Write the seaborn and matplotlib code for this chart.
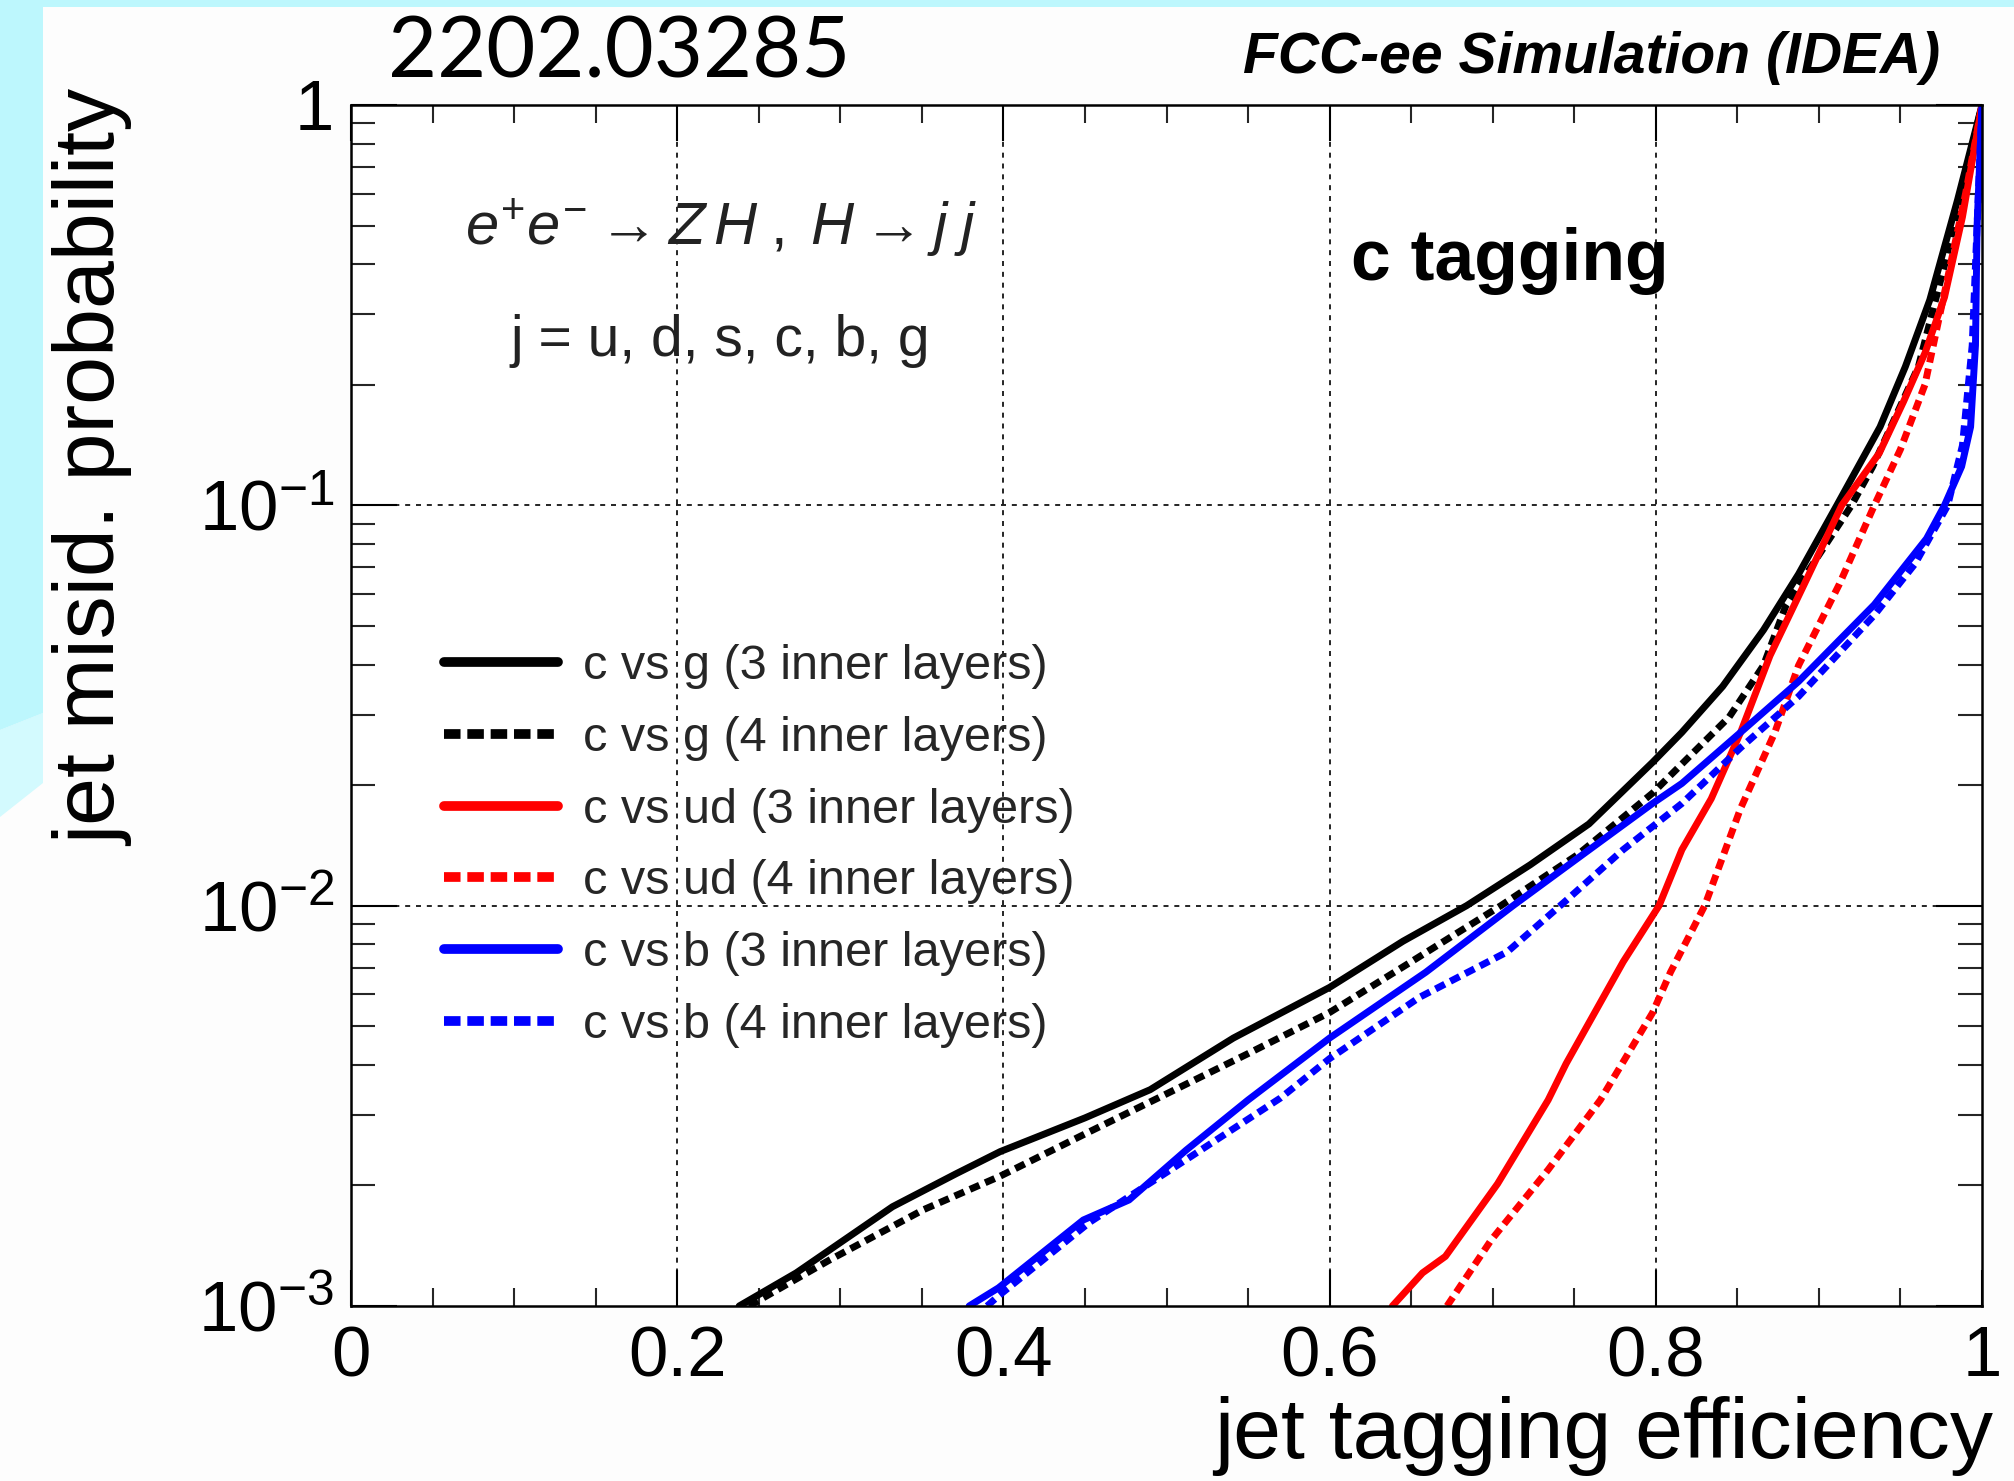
import numpy as np
import pandas as pd
import matplotlib
matplotlib.use("Agg")
import matplotlib.pyplot as plt
import seaborn as sns
from matplotlib.lines import Line2D
from matplotlib.patches import Polygon
from matplotlib.ticker import FixedLocator, FixedFormatter, LogLocator, NullFormatter

# ---------------- data ----------------
cg3_eff = [0.238, 0.273, 0.332, 0.371, 0.398, 0.45, 0.49, 0.541, 0.6, 0.645, 0.684,
           0.723, 0.759, 0.798, 0.816, 0.841, 0.866, 0.8875, 0.911, 0.9375, 0.953,
           0.968, 0.985, 1.0]
cg3_mis = [0.001, 0.00121, 0.00177, 0.00214, 0.00243, 0.00295, 0.00347, 0.00467,
           0.00625, 0.00815, 0.0100, 0.01265, 0.016, 0.0228, 0.0271, 0.0353, 0.0488,
           0.0673, 0.1, 0.157, 0.222, 0.326, 0.579, 1.0]

cg4_eff = [0.244, 0.293, 0.351, 0.398, 0.45, 0.495, 0.55, 0.6, 0.65, 0.705, 0.752,
           0.798, 0.845, 0.866, 0.880, 0.92, 0.933, 0.961, 0.977, 1.0]
cg4_mis = [0.001, 0.0013, 0.00174, 0.00211, 0.00269, 0.00331, 0.00427, 0.00541,
           0.00724, 0.01, 0.0134, 0.0191, 0.0296, 0.0398, 0.0565, 0.1, 0.125, 0.222,
           0.398, 1.0]

cud3_eff = [0.6385, 0.657, 0.671, 0.703, 0.734, 0.745, 0.780, 0.802, 0.816, 0.834,
            0.852, 0.870, 0.891, 0.914, 0.937, 0.952, 0.965, 0.977, 0.988, 1.0]
cud3_mis = [0.001, 0.00121, 0.00133, 0.00202, 0.00327, 0.00403, 0.00724, 0.01, 0.0138,
            0.0185, 0.0271, 0.0421, 0.0635, 0.1, 0.135, 0.182, 0.24, 0.331, 0.525, 1.0]

cud4_eff = [0.672, 0.699, 0.734, 0.766, 0.798, 0.809, 0.830, 0.852, 0.873, 0.8875,
            0.9125, 0.934, 0.95, 0.965, 0.978, 0.99, 1.0]
cud4_mis = [0.001, 0.00146, 0.00219, 0.00327, 0.0054, 0.00682, 0.01, 0.0175, 0.0271,
            0.0398, 0.0635, 0.1, 0.138, 0.2, 0.355, 0.603, 1.0]

cb3_eff = [0.379, 0.397, 0.449, 0.477, 0.512, 0.55, 0.6, 0.659, 0.7125, 0.755, 0.798,
           0.816, 0.852, 0.8875, 0.934, 0.966, 0.977, 0.9875, 0.993, 0.996, 0.997,
           0.999, 1.0]
cb3_mis = [0.001, 0.00111, 0.00164, 0.00184, 0.00245, 0.00327, 0.00467, 0.00682, 0.01,
           0.0134, 0.018, 0.0202, 0.0271, 0.0363, 0.0565, 0.0826, 0.1, 0.125, 0.157,
           0.251, 0.501, 0.794, 1.0]

cb4_eff = [0.39, 0.397, 0.453, 0.512, 0.57, 0.6, 0.655, 0.709, 0.745, 0.780, 0.816,
           0.852, 0.8875, 0.934, 0.959, 0.979, 0.988, 0.994, 0.997, 1.0]
cb4_mis = [0.001, 0.00106, 0.00162, 0.00232, 0.00331, 0.00415, 0.0059, 0.00767, 0.0103,
           0.0138, 0.018, 0.0248, 0.0333, 0.0532, 0.0715, 0.1, 0.141, 0.251, 0.501, 1.0]

series_labels = ["c vs g (3 inner layers)", "c vs g (4 inner layers)",
                 "c vs ud (3 inner layers)", "c vs ud (4 inner layers)",
                 "c vs b (3 inner layers)", "c vs b (4 inner layers)"]
series_eff = [cg3_eff, cg4_eff, cud3_eff, cud4_eff, cb3_eff, cb4_eff]
series_mis = [cg3_mis, cg4_mis, cud3_mis, cud4_mis, cb3_mis, cb4_mis]

x_tick_values = [0, 0.2, 0.4, 0.6, 0.8, 1.0]
x_tick_labels = ["0", "0.2", "0.4", "0.6", "0.8", "1"]
y_tick_values = [1e-3, 1e-2, 1e-1, 1.0]
y_tick_labels = [r"$\mathregular{10^{-3}}$", r"$\mathregular{10^{-2}}$",
                 r"$\mathregular{10^{-1}}$", "1"]

# ---------------- styling ----------------
sns.set_theme(style="ticks")
plt.rcParams["font.family"] = ["Liberation Sans", "DejaVu Sans"]
plt.rcParams["mathtext.fontset"] = "custom"
plt.rcParams["mathtext.rm"] = "Liberation Sans"
plt.rcParams["mathtext.it"] = "Liberation Sans:italic"
plt.rcParams["mathtext.bf"] = "Liberation Sans:bold"

colors = ["#000000", "#000000", "#ff0000", "#ff0000", "#0000ff", "#0000ff"]
dotted = (0, (1.5, 0.9))
leg_dotted = (0, (1.7, 0.7))
styles = ["-", dotted, "-", dotted, "-", dotted]
leg_styles = ["-", leg_dotted, "-", leg_dotted, "-", leg_dotted]

W, H = 2014, 1481
fig = plt.figure(figsize=(W / 100, H / 100), dpi=100)
fig.patch.set_facecolor("#fdfdfd")

# slide decoration (cyan border)
cyan = "#bdf7fd"
light_cyan = "#d3fafe"
fig.add_artist(Polygon([[0, 1], [1, 1], [1, 1 - 7 / H], [0, 1 - 7 / H]],
                       closed=True, transform=fig.transFigure, color=cyan, lw=0, zorder=0))
fig.add_artist(Polygon([[0, 1 - 730 / H], [43 / W, 1 - 713 / H], [43 / W, 1 - 783 / H],
                        [0, 1 - 817 / H]],
                       closed=True, transform=fig.transFigure, color=light_cyan, lw=0, zorder=0))
fig.add_artist(Polygon([[0, 1], [43 / W, 1], [43 / W, 1 - 713 / H], [0, 1 - 730 / H]],
                       closed=True, transform=fig.transFigure, color=cyan, lw=0, zorder=0))

ax = fig.add_axes([351 / W, 1 - 1306 / H, (1982 - 351) / W, (1306 - 105) / H])
ax.set_facecolor("white")

for eff, mis, c, ls, lab in zip(series_eff, series_mis, colors, styles, series_labels):
    df = pd.DataFrame({"eff": eff, "mis": mis})
    sns.lineplot(data=df, x="eff", y="mis", ax=ax, color=c, lw=5,
                 sort=False, estimator=None, legend=False)
    ln = ax.lines[-1]
    ln.set_linestyle(ls)
    ln.set_dash_capstyle("butt")
    ln.set_solid_joinstyle("round")

ax.set_yscale("log")
ax.set_xlim(0, 1)
ax.set_ylim(1e-3, 1)
ax.set_xlabel("")
ax.set_ylabel("")

# grid
for gx in [0.2, 0.4, 0.6, 0.8]:
    ax.axvline(gx, color="black", lw=1.2, linestyle=(0, (3, 3.5)), zorder=0.5)
for gy in [1e-2, 1e-1]:
    ax.axhline(gy, color="black", lw=1.2, linestyle=(0, (3, 3.5)), zorder=0.5)

# ticks
ax.xaxis.set_major_locator(FixedLocator(x_tick_values))
ax.xaxis.set_major_formatter(FixedFormatter(x_tick_labels))
ax.xaxis.set_minor_locator(FixedLocator(np.arange(0, 1.0001, 0.05)))
ax.yaxis.set_major_locator(FixedLocator(y_tick_values))
ax.yaxis.set_major_formatter(FixedFormatter(y_tick_labels))
ax.yaxis.set_minor_locator(LogLocator(base=10, subs=np.arange(2, 10)))
ax.yaxis.set_minor_formatter(NullFormatter())

ax.tick_params(axis="x", which="major", direction="in", length=26, width=1.5,
               top=True, bottom=True, labelsize=51, pad=14, color="black", labelcolor="black")
ax.tick_params(axis="x", which="minor", direction="in", length=13, width=1.5,
               top=True, bottom=True)
ax.tick_params(axis="y", which="major", direction="in", length=33, width=1.5,
               left=True, right=True, labelsize=51, pad=12, color="black", labelcolor="black")
ax.tick_params(axis="y", which="minor", direction="in", length=17, width=1.5,
               left=True, right=True)
for s in ax.spines.values():
    s.set_visible(True)
    s.set_linewidth(1.8)
    s.set_color("black")
    s.set_zorder(5)

# legend
handles = [Line2D([0], [0], color=c, lw=7, linestyle=ls, dash_capstyle="butt")
           for c, ls in zip(colors, leg_styles)]
ax.legend(handles, series_labels, loc="upper left", bbox_to_anchor=(0.057, 0.551),
          frameon=False, fontsize=35, handlelength=2.35, handletextpad=0.5,
          labelspacing=0.55, borderpad=0, borderaxespad=0)

# in-plot texts
ax.text(0.07, 0.884, r"$e^{+}e^{-} \rightarrow Z\,H\;,\;H \rightarrow j\;j$",
        transform=ax.transAxes, fontsize=43, ha="left", va="baseline", color="#222222")
ax.text(0.098, 0.791, "j = u, d, s, c, b, g", transform=ax.transAxes,
        fontsize=41, ha="left", va="baseline", color="#222222")
ax.text(0.613, 0.854, "c tagging", transform=ax.transAxes, fontsize=51.5,
        fontweight="bold", ha="left", va="baseline", color="black")

# figure texts
fig.text(388 / W, 1 - 77 / H, "2202.03285", fontsize=61,
         family=["Lato", "Open Sans", "DejaVu Sans"], ha="left", va="baseline", color="black")
fig.text(1940 / W, 1 - 73 / H, "FCC-ee Simulation (IDEA)", fontsize=41,
         fontweight="bold", fontstyle="italic", ha="right", va="baseline", color="black")
fig.text(1993 / W, 1 - 1458 / H, "jet tagging efficiency", fontsize=62,
         ha="right", va="baseline", color="black")
fig.text(0.027, 1 - 90 / H, "jet misid. probability", fontsize=62, rotation=90,
         ha="left", va="top", color="black")

fig.savefig("out.png", dpi=100, facecolor=fig.get_facecolor())
